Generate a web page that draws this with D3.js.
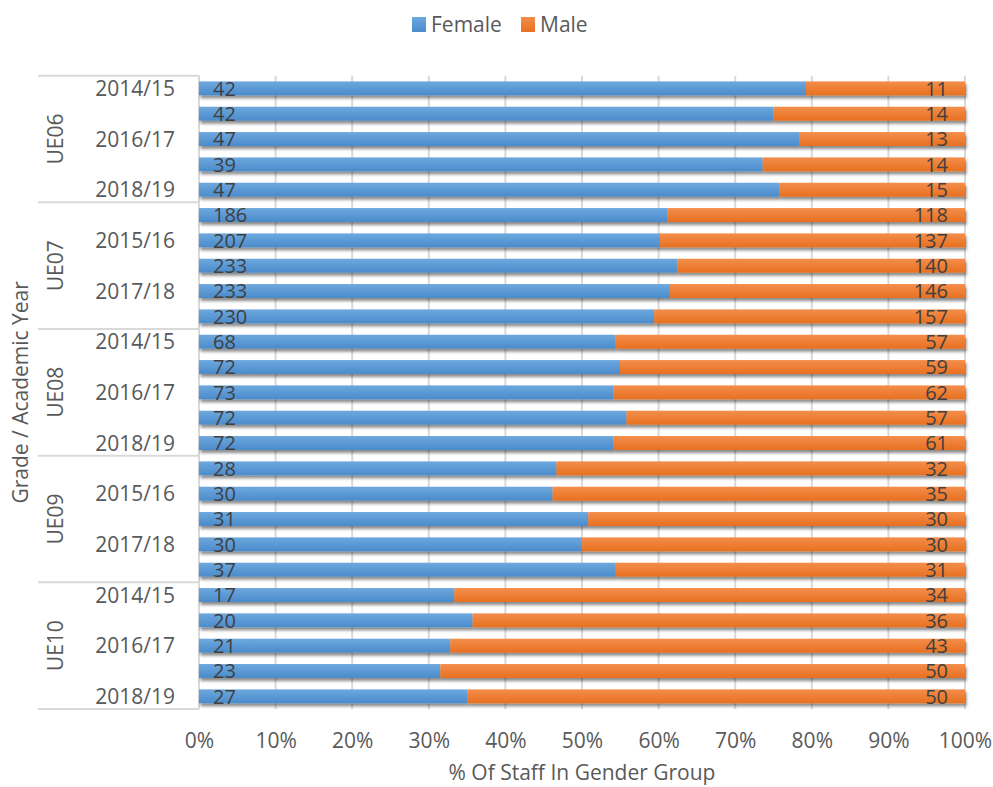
<!DOCTYPE html>
<html>
<head>
<meta charset="utf-8">
<script src="https://cdn.jsdelivr.net/npm/d3@7"></script>
<style>
  html, body { margin: 0; padding: 0; background: #fff; }
  svg { display: block; font-family: "Open Sans", "Liberation Sans", sans-serif; }
</style>
</head>
<body>
<svg id="chart" width="993" height="787"></svg>
<script>
const grades = ["UE06", "UE07", "UE08", "UE09", "UE10"];
const years = ["2014/15", "2015/16", "2016/17", "2017/18", "2018/19"];
const seriesNames = ["Female", "Male"];
const female = [
  42, 42, 47, 39, 47,
  186, 207, 233, 233, 230,
  68, 72, 73, 72, 72,
  28, 30, 31, 30, 37,
  17, 20, 21, 23, 27
];
const male = [
  11, 14, 13, 14, 15,
  118, 137, 140, 146, 157,
  57, 59, 62, 57, 61,
  32, 35, 30, 30, 31,
  34, 36, 43, 50, 50
];
const xTicks = [0, 0.1, 0.2, 0.3, 0.4, 0.5, 0.6, 0.7, 0.8, 0.9, 1.0];

const rows = [];
grades.forEach((g, gi) => years.forEach((yr, yi) => {
  const i = gi * years.length + yi;
  rows.push({ key: g + "|" + yr, grade: g, year: yr, idx: i, Female: female[i], Male: male[i] });
}));

const svg = d3.select("#chart");
const plotLeft = 199, plotRight = 965, plotTop = 75.7, plotBottom = 709;
const textColor = "#595959";
const fs = 21;

const defs = svg.append("defs");
const f = defs.append("filter").attr("id", "shadow").attr("x", "-5%").attr("y", "-50%").attr("width", "110%").attr("height", "220%");
f.append("feDropShadow").attr("dx", 1.5).attr("dy", 3).attr("stdDeviation", 1.6)
  .attr("flood-color", "#000").attr("flood-opacity", 0.45);

const grads = { Female: ["#6EA8DE", "#4A8BCB"], Male: ["#F38E4C", "#E8701F"] };
Object.entries(grads).forEach(([k, c]) => {
  const lg = defs.append("linearGradient").attr("id", "g" + k).attr("x1", 0).attr("y1", 0).attr("x2", 0).attr("y2", 1);
  lg.append("stop").attr("offset", "0%").attr("stop-color", c[0]);
  lg.append("stop").attr("offset", "100%").attr("stop-color", c[1]);
});

const x = d3.scaleLinear().domain([0, 1]).range([plotLeft, plotRight]);
const y = d3.scaleBand().domain(rows.map(r => r.key)).range([plotTop, plotBottom]).paddingInner(0.45).paddingOuter(0.225);

// gridlines
svg.append("g").selectAll("line").data(xTicks).join("line")
  .attr("x1", d => x(d)).attr("x2", d => x(d))
  .attr("y1", plotTop).attr("y2", plotBottom)
  .attr("stroke", "#d9d9d9").attr("stroke-width", 2);

// category axis lines
const band = (plotBottom - plotTop) / rows.length;
const sepYs = d3.range(grades.length + 1).map(i => plotTop + i * years.length * band);
svg.append("g").selectAll("line").data(sepYs).join("line")
  .attr("x1", 38).attr("x2", plotLeft).attr("y1", d => d).attr("y2", d => d)
  .attr("stroke", "#d9d9d9").attr("stroke-width", 2);
svg.append("line").attr("x1", plotLeft).attr("x2", plotLeft).attr("y1", plotTop).attr("y2", plotBottom)
  .attr("stroke", "#d9d9d9").attr("stroke-width", 2);

// stacked data
const stack = d3.stack().keys(seriesNames).offset(d3.stackOffsetExpand);
const stacked = stack(rows);

const gBars = svg.append("g").attr("filter", "url(#shadow)");
stacked.forEach(s => {
  gBars.append("g").selectAll("rect").data(s).join("rect")
    .attr("x", d => x(d[0]))
    .attr("width", d => x(d[1]) - x(d[0]))
    .attr("y", d => y(d.data.key))
    .attr("height", y.bandwidth())
    .attr("fill", `url(#g${s.key})`);
});

// data labels
const labels = svg.append("g").attr("font-size", 20).attr("fill", "#404040");
labels.selectAll("text.f").data(rows).join("text").attr("class", "f")
  .attr("x", x(0) + 14).attr("y", d => y(d.key) + y.bandwidth() / 2).attr("dy", "0.36em")
  .text(d => d.Female);
labels.selectAll("text.m").data(rows).join("text").attr("class", "m")
  .attr("x", x(1) - 17).attr("y", d => y(d.key) + y.bandwidth() / 2).attr("dy", "0.36em")
  .attr("text-anchor", "end").text(d => d.Male);

// year labels (every other)
svg.append("g").attr("font-size", fs).attr("fill", textColor)
  .selectAll("text").data(rows.filter(r => r.idx % 2 === 0)).join("text")
  .attr("x", 175).attr("y", d => y(d.key) + y.bandwidth() / 2).attr("dy", "0.36em")
  .attr("text-anchor", "end").text(d => d.year);

// grade labels
svg.append("g").attr("font-size", fs).attr("fill", textColor)
  .selectAll("text").data(grades).join("text")
  .attr("transform", (d, i) => `translate(63,${(sepYs[i] + sepYs[i + 1]) / 2}) rotate(-90)`)
  .attr("text-anchor", "middle").text(d => d);

// x axis
const xAxis = d3.axisBottom(x).tickValues(xTicks).tickFormat(d3.format(".0%")).tickSize(0).tickPadding(0);
const gx = svg.append("g").attr("transform", `translate(0,748)`).call(xAxis);
gx.select(".domain").remove();
gx.selectAll("text").attr("font-size", fs).attr("fill", textColor).attr("font-family", "Open Sans").attr("dy", 0);

// axis titles
svg.append("text").attr("x", x(0.5)).attr("y", 780).attr("text-anchor", "middle")
  .attr("font-size", fs).attr("fill", textColor).text("% Of Staff In Gender Group");
svg.append("text").attr("transform", `translate(28,${(plotTop + plotBottom) / 2}) rotate(-90)`).attr("text-anchor", "middle")
  .attr("font-size", fs).attr("fill", textColor).text("Grade / Academic Year");

// legend
const legend = svg.append("g").attr("font-size", fs).attr("fill", textColor);
const legendItems = [{ name: "Female", x: 412 }, { name: "Male", x: 521 }];
legendItems.forEach(li => {
  legend.append("rect").attr("x", li.x).attr("y", 17).attr("width", 14).attr("height", 15).attr("fill", `url(#g${li.name})`);
  legend.append("text").attr("x", li.x + 19).attr("y", 24.5).attr("dy", "0.36em").text(li.name);
});
</script>
</body>
</html>
